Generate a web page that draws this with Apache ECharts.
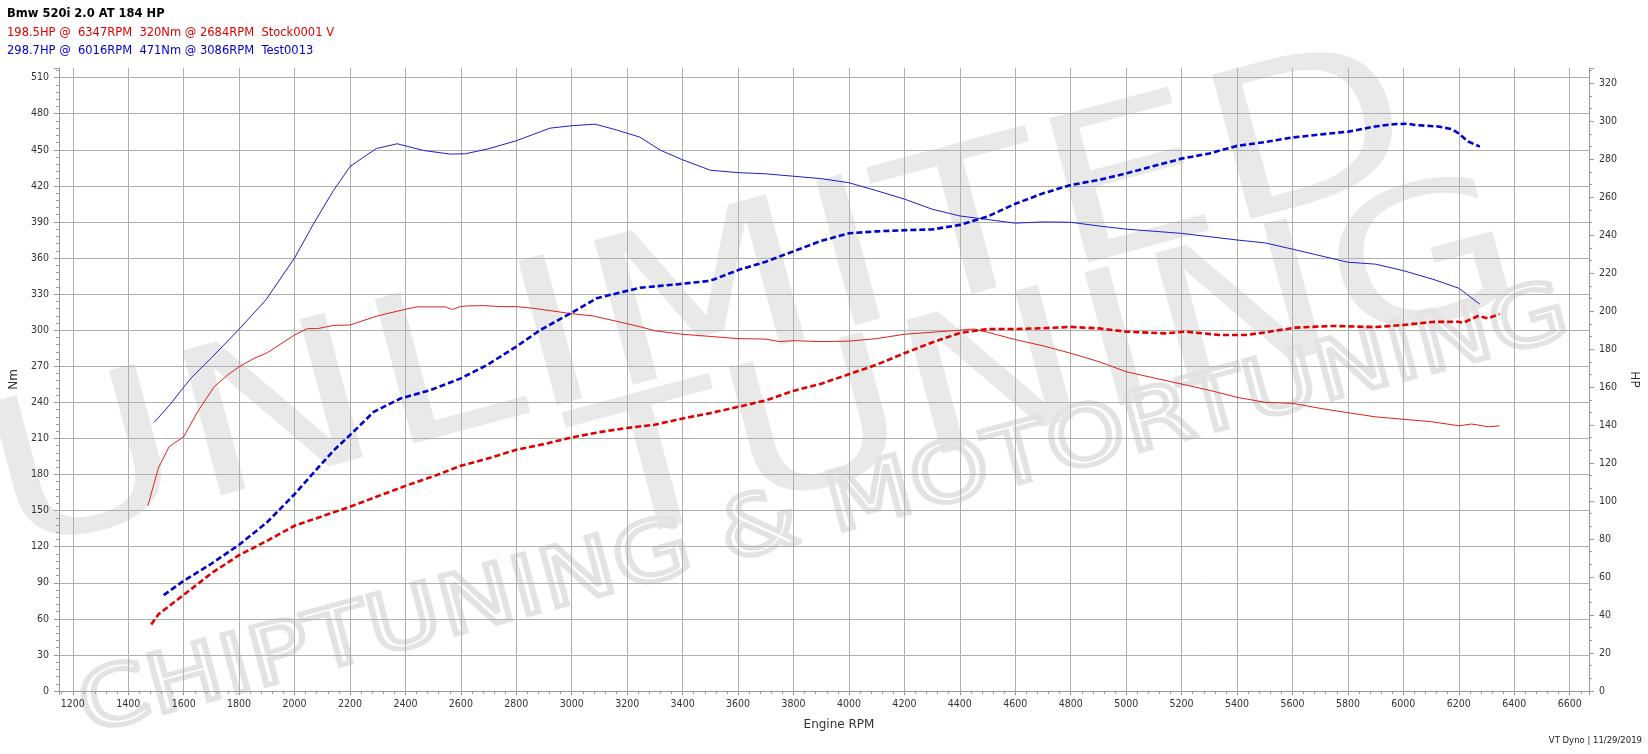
<!DOCTYPE html>
<html><head><meta charset="utf-8">
<script src="https://cdn.jsdelivr.net/npm/echarts@6/dist/echarts.min.js"></script>
<style>html,body{margin:0;padding:0;background:#fff}#c{width:1648px;height:754px}</style>
</head><body><div id="c"></div><script>
// ---- data ----
const titleText = 'Bmw 520i 2.0 AT 184 HP';
const stockInfo = '198.5HP @  6347RPM  320Nm @ 2684RPM  Stock0001 V';
const testInfo = '298.7HP @  6016RPM  471Nm @ 3086RPM  Test0013';
const xName = 'Engine RPM';
const leftName = 'Nm';
const rightName = 'HP';
const footerText = 'VT Dyno | 11/29/2019';

const testTorqueRpm = [1494,1550,1600,1626,1700,1800,1896,2000,2070,2140,2200,2250,2295,2370,2466,2562,2616,2694,2800,2922,3000,3084,3160,3246,3320,3400,3500,3600,3700,3800,3900,4000,4100,4200,4300,4400,4500,4600,4700,4800,4900,5000,5200,5400,5500,5600,5800,5900,6000,6114,6200,6276];
const testTorqueNm = [223.4,238,252.5,260,277,300.8,325,360,389,416,436,444,451,455,449.4,446.4,446.7,450.5,457.5,468,470,471.3,466.6,460.5,449.6,441.7,433,431,430,428,426,422.6,416,409,400.6,395,392,389,390,389.7,386.7,384,380.5,375,372.6,367.4,356.5,354.9,349.5,341.8,334.9,321.6];

const stockTorqueRpm = [1471,1490,1509,1547,1600,1650,1710,1760,1800,1854,1902,2000,2046,2082,2142,2200,2298,2400,2442,2544,2570,2600,2628,2682,2742,2800,2862,3000,3078,3160,3246,3300,3400,3500,3600,3700,3750,3800,3900,4000,4100,4200,4300,4400,4450,4500,4600,4700,4800,4902,5000,5106,5200,5298,5400,5502,5600,5700,5800,5898,6000,6102,6200,6246,6306,6347];
const stockTorqueNm = [154,170,185.5,203,211.4,232,253,263,269.6,276.6,281.3,296,301.3,301.3,304,304.3,311.8,317.4,319.4,319.4,317.2,319.8,320.2,320.4,319.6,319.6,318.2,313.7,311.8,307.5,302.9,299.5,296.6,294.8,293,292.6,290.5,291.3,290.5,290.9,293,296.6,298.3,300,301,298.3,292.2,287,280.8,273.8,265.5,260,255.2,250.2,244.2,240,239.2,235,231.4,228,225.9,223.9,220.5,222,219.7,220.5];

const testHpRpm = [1528,1600,1700,1800,1900,2000,2100,2142,2200,2286,2382,2490,2600,2694,2800,2886,3000,3090,3246,3400,3500,3600,3700,3800,3900,4000,4100,4200,4300,4400,4500,4600,4700,4800,4900,5000,5100,5200,5300,5400,5500,5600,5700,5802,5898,5964,6016,6042,6126,6174,6198,6234,6276];
const testHp = [50.5,58,67,77,88.7,103.6,120,126.8,134.7,147,154,158.4,164.6,171.6,181.3,190,199.2,206.8,212.3,214.4,216,221.6,226,231.5,237,241,242,242.6,243,245.4,249.8,256.5,262,266.4,269,272.5,276.4,280.3,283,287,289,291.4,293,294.5,297.2,298.4,298.7,298,297.2,295.8,293.7,289.3,286.6];

const stockHpRpm = [1483,1509,1600,1700,1800,1900,2000,2100,2200,2300,2400,2500,2600,2700,2800,2900,3000,3100,3200,3300,3400,3500,3600,3700,3800,3900,4000,4100,4200,4300,4400,4500,4600,4700,4800,4902,5000,5142,5214,5340,5430,5502,5610,5742,5898,6000,6102,6198,6216,6270,6306,6347];
const stockHp = [35,40.4,50.6,62,71.5,79,87,92,97,102.5,108,113,118.6,122.5,127,130,133.5,136.3,138.5,140.2,143.5,146.3,149.6,153,158,161.8,166.8,171.8,177.8,183.5,188.5,190.6,190.6,191,191.7,190.9,189.2,188.3,189.2,187.4,187.4,188.8,191.3,192.2,191.6,192.7,194.3,194.4,193.9,197.4,196.2,198.5];

const watermarkWords = ['UNLIMITED', 'TUNING', 'CHIPTUNING & MOTORTUNING'];

// ---- chart ----
const pairs = (xs, ys) => xs.map((x, i) => [x, ys[i]]);
const FONT = 'DejaVu Sans';
const LABEL_FONT = 'DejaVu Sans Condensed, DejaVu Sans';
const axisGray = '#9a9a9a';
const gridGray = '#b0b0b0';
const wm = '#e9e9e9';
const plain = v => String(v);

const chart = echarts.init(document.getElementById('c'), null, {renderer: 'canvas'});
chart.setOption({
  animation: false,
  backgroundColor: '#fff',
  grid: {left: 57, right: 56, top: 68, bottom: 63, containLabel: false},
  graphic: [
    {type: 'text', z: -10, x: 20, y: 600, rotation: 0.262, scaleX: 1.3,
     style: {text: watermarkWords[0], font: '205px ' + FONT, fill: wm, textVerticalAlign: 'bottom'}},
    {type: 'text', z: -10, x: 610, y: 590, rotation: 0.262, scaleX: 1.3,
     style: {text: watermarkWords[1], font: '190px ' + FONT, fill: wm, textVerticalAlign: 'bottom'}},
    {type: 'text', z: -10, x: 92, y: 752, rotation: 0.262, scaleX: 1.23,
     style: {text: watermarkWords[2], font: '82px ' + FONT, fill: 'none', stroke: '#e3e3e3', lineWidth: 5, textVerticalAlign: 'bottom'}},
    {type: 'text', x: 7, y: 14, style: {text: titleText, font: 'bold 11.5px ' + FONT, fill: '#000', textVerticalAlign: 'middle'}},
    {type: 'text', x: 7, y: 33, style: {text: stockInfo, font: '11.5px ' + FONT, fill: '#e00000', textVerticalAlign: 'middle'}},
    {type: 'text', x: 7, y: 51.5, style: {text: testInfo, font: '11.5px ' + FONT, fill: '#0000cc', textVerticalAlign: 'middle'}},
    {type: 'text', x: 839, y: 725, style: {text: xName, font: '12px ' + FONT, fill: '#333', textAlign: 'center', textVerticalAlign: 'middle'}},
    {type: 'text', x: 1642, y: 741, style: {text: footerText, font: '8.5px ' + FONT, fill: '#222', textAlign: 'right', textVerticalAlign: 'middle'}}
  ],
  xAxis: {
    type: 'value', min: 1150, max: 6670, splitNumber: 27,
    axisLine: {show: true, onZero: false, lineStyle: {color: axisGray}},
    axisTick: {show: true, length: 4, inside: false, lineStyle: {color: axisGray}},
    minorTick: {show: true, splitNumber: 5, length: 3, lineStyle: {color: axisGray}},
    axisLabel: {formatter: plain, showMinLabel: false, showMaxLabel: false, margin: 8, color: '#333', fontFamily: LABEL_FONT, fontSize: 10.5},
    splitLine: {show: true, showMinLine: false, showMaxLine: false, lineStyle: {color: gridGray, width: 1}}
  },
  yAxis: [
    {type: 'value', min: 0, max: 518, interval: 30, position: 'left',
     name: leftName, nameLocation: 'middle', nameGap: 37, nameTextStyle: {color: '#333', fontFamily: FONT, fontSize: 12},
     axisLine: {show: true, lineStyle: {color: axisGray}},
     axisTick: {show: true, length: 5, lineStyle: {color: axisGray}},
     minorTick: {show: true, splitNumber: 5, length: 3, lineStyle: {color: axisGray}},
     axisLabel: {formatter: plain, showMaxLabel: false, margin: 10, color: '#333', fontFamily: LABEL_FONT, fontSize: 10.5},
     splitLine: {show: true, showMinLine: false, showMaxLine: false, lineStyle: {color: gridGray, width: 1}}},
    {type: 'value', min: 0, max: 328, interval: 20, position: 'right',
     name: rightName, nameLocation: 'middle', nameGap: 34, nameRotate: -90, nameTextStyle: {color: '#333', fontFamily: FONT, fontSize: 12},
     axisLine: {show: true, lineStyle: {color: axisGray}},
     axisTick: {show: true, length: 5, lineStyle: {color: axisGray}},
     minorTick: {show: true, splitNumber: 3, length: 3, lineStyle: {color: axisGray}},
     axisLabel: {formatter: plain, showMaxLabel: false, margin: 10, color: '#333', fontFamily: LABEL_FONT, fontSize: 10.5},
     splitLine: {show: false}}
  ],
  series: [
    {name: 'Test0013 Nm', type: 'line', yAxisIndex: 0, showSymbol: false, symbol: 'none', z: 3,
     lineStyle: {color: '#1f1fc8', width: 1}, data: pairs(testTorqueRpm, testTorqueNm)},
    {name: 'Stock0001 Nm', type: 'line', yAxisIndex: 0, showSymbol: false, symbol: 'none', z: 3,
     lineStyle: {color: '#e02020', width: 1}, data: pairs(stockTorqueRpm, stockTorqueNm)},
    {name: 'Test0013 HP', type: 'line', yAxisIndex: 1, showSymbol: false, symbol: 'none', z: 3,
     lineStyle: {color: '#0000cc', width: 2.6, type: [6, 3]}, data: pairs(testHpRpm, testHp)},
    {name: 'Stock0001 HP', type: 'line', yAxisIndex: 1, showSymbol: false, symbol: 'none', z: 3,
     lineStyle: {color: '#e00000', width: 2.6, type: [6, 3]}, data: pairs(stockHpRpm, stockHp)}
  ]
});
</script></body></html>
